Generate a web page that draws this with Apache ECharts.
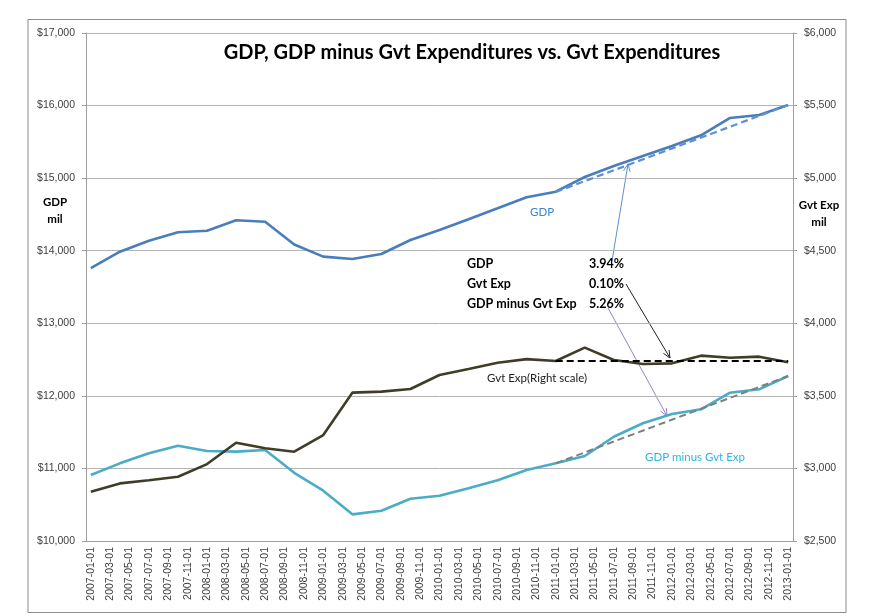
<!DOCTYPE html>
<html>
<head>
<meta charset="utf-8">
<script src="https://cdn.jsdelivr.net/npm/echarts@6/dist/echarts.min.js"></script>
<style>html,body{margin:0;padding:0;background:#fff;}#c{width:869px;height:616px;}</style>
</head>
<body>
<div id="c"></div>
<script>
// Quarterly observation dates
const quarters = [
  '2007-01-01','2007-04-01','2007-07-01','2007-10-01',
  '2008-01-01','2008-04-01','2008-07-01','2008-10-01',
  '2009-01-01','2009-04-01','2009-07-01','2009-10-01',
  '2010-01-01','2010-04-01','2010-07-01','2010-10-01',
  '2011-01-01','2011-04-01','2011-07-01','2011-10-01',
  '2012-01-01','2012-04-01','2012-07-01','2012-10-01',
  '2013-01-01'
];
// GDP ($ mil, left axis)
const gdp = [13760, 13986, 14138, 14254, 14276, 14419, 14400, 14085, 13918, 13886, 13955, 14147,
             14285, 14433, 14584, 14736, 14813, 15016, 15167, 15305, 15443, 15590, 15829, 15870, 16008];
// Government expenditures ($ mil, right axis)
const gvtExp = [2840, 2897, 2918, 2943, 3030, 3177, 3139, 3115, 3230, 3522, 3529, 3547,
                3644, 3685, 3728, 3753, 3740, 3832, 3747, 3719, 3724, 3777, 3763, 3770, 3731];
// GDP minus government expenditures ($ mil, left axis)
const gdpMinus = [10909, 11070, 11208, 11313, 11240, 11231, 11254, 10940, 10693, 10367, 10417, 10583,
                  10624, 10726, 10836, 10978, 11070, 11171, 11437, 11622, 11750, 11815, 12043, 12090, 12273];
// Trend lines (start 2011-01-01, end 2013-01-01)
const trendDates = ['2011-01-01', '2013-01-01'];
const gdpTrend = [14809, 16008];
const gvtTrend = [3740, 3740];
const gdpMinusTrend = [11070, 12273];
// Annotation table
const annoNames = ['GDP', 'Gvt Exp', 'GDP minus Gvt Exp'];
const annoRates = ['3.94%', '0.10%', '5.26%'];

// Monthly category axis 2007-01-01 .. 2013-01-01
const months = [];
for (let y = 2007; y <= 2013; y++) {
  for (let m = 1; m <= 12; m++) {
    if (y === 2013 && m > 1) break;
    months.push(y + '-' + (m < 10 ? '0' + m : m) + '-01');
  }
}
function toMonthly(dates, vals) {
  return months.map(d => { const i = dates.indexOf(d); return i >= 0 ? vals[i] : null; });
}

const chart = echarts.init(document.getElementById('c'), null, {renderer: 'canvas'});
const fmt = v => '$' + v.toLocaleString('en-US');
const axisFont = {fontFamily: 'Liberation Sans', fontSize: 10.5, color: '#404040'};

function arrow(x1, y1, x2, y2, color) {
  const a = Math.atan2(y2 - y1, x2 - x1), L = 8, s = 0.42;
  return {
    type: 'group', silent: true, children: [
      {type: 'line', shape: {x1, y1, x2, y2}, style: {stroke: color, lineWidth: 1}},
      {type: 'polyline', shape: {points: [
        [x2 - L * Math.cos(a - s), y2 - L * Math.sin(a - s)], [x2, y2],
        [x2 - L * Math.cos(a + s), y2 - L * Math.sin(a + s)]]},
        style: {stroke: color, lineWidth: 1, fill: null}}
    ]
  };
}

const annoFont = {fontFamily: 'Lato', fontWeight: 'bold', fontSize: 12.5, fill: '#000'};
const graphics = [
  {type: 'rect', shape: {x: 28, y: 19.5, width: 818, height: 593}, style: {fill: null, stroke: '#8c8c8c', lineWidth: 1}, silent: true},
  {type: 'text', x: 472, y: 43, style: {text: 'GDP, GDP minus Gvt Expenditures vs. Gvt Expenditures', align: 'center', fontFamily: 'Lato', fontWeight: 'bold', fontSize: 20, fill: '#000'}, silent: true},
  {type: 'text', x: 55, y: 194, style: {text: 'GDP\nmil', align: 'center', fontFamily: 'Lato', fontWeight: 'bold', fontSize: 11.5, lineHeight: 17, fill: '#000'}},
  {type: 'text', x: 819, y: 197, style: {text: 'Gvt Exp\nmil', align: 'center', fontFamily: 'Lato', fontWeight: 'bold', fontSize: 11.5, lineHeight: 17, fill: '#000'}},
  {type: 'text', x: 530, y: 206, style: {text: 'GDP', fontFamily: 'Lato', fontSize: 11.5, fill: '#3b86cf'}},
  {type: 'text', x: 487, y: 372, style: {text: 'Gvt Exp(Right scale)', fontFamily: 'Lato', fontSize: 11.5, fill: '#222'}},
  {type: 'text', x: 645, y: 451, style: {text: 'GDP minus Gvt Exp', fontFamily: 'Lato', fontSize: 11.5, fill: '#2eb4e6'}},
  arrow(612, 261, 628, 164, '#5b8fd0'),
  arrow(626, 284, 670, 358, '#222'),
  arrow(608, 308, 667, 416, '#9a82cf')
];
annoNames.forEach((n, i) => {
  graphics.push({type: 'text', x: 467, y: 257 + i * 20, style: Object.assign({text: n}, annoFont)});
  graphics.push({type: 'text', x: 624, y: 257 + i * 20, style: Object.assign({text: annoRates[i], align: 'right'}, annoFont)});
});

chart.setOption({
  animation: false,
  backgroundColor: '#fff',
  grid: {left: 86, right: 76, top: 33, bottom: 75, containLabel: false},
  xAxis: {
    type: 'category', data: months, boundaryGap: true,
    axisLine: {lineStyle: {color: '#a0a0a0'}},
    axisTick: {interval: 1, length: 5, lineStyle: {color: '#a0a0a0'}},
    axisLabel: Object.assign({interval: 1, rotate: 90, margin: 6}, axisFont),
    splitLine: {show: false}
  },
  yAxis: [
    {type: 'value', min: 10000, max: 17000, interval: 1000, position: 'left',
     axisLine: {show: true, lineStyle: {color: '#a0a0a0'}},
     axisTick: {show: true, length: 4, lineStyle: {color: '#a0a0a0'}},
     axisLabel: Object.assign({formatter: fmt, margin: 11}, axisFont),
     splitLine: {lineStyle: {color: '#b4b4b4'}}},
    {type: 'value', min: 2500, max: 6000, interval: 500, position: 'right',
     axisLine: {show: true, lineStyle: {color: '#a0a0a0'}},
     axisTick: {show: true, length: 4, lineStyle: {color: '#a0a0a0'}},
     axisLabel: Object.assign({formatter: fmt, margin: 11}, axisFont),
     splitLine: {show: false}}
  ],
  series: [
    {name: 'GDP', type: 'line', yAxisIndex: 0, data: toMonthly(quarters, gdp), connectNulls: true,
     showSymbol: false, lineStyle: {color: '#4a7ebb', width: 2.6}, z: 3},
    {name: 'GDP minus Gvt Exp', type: 'line', yAxisIndex: 0, data: toMonthly(quarters, gdpMinus), connectNulls: true,
     showSymbol: false, lineStyle: {color: '#4bacc6', width: 2.6}, z: 3},
    {name: 'Gvt Exp', type: 'line', yAxisIndex: 1, data: toMonthly(quarters, gvtExp), connectNulls: true,
     showSymbol: false, lineStyle: {color: '#3f3d27', width: 2.6}, z: 3},
    {name: 'GDP trend', type: 'line', yAxisIndex: 0, data: toMonthly(trendDates, gdpTrend), connectNulls: true,
     showSymbol: false, lineStyle: {color: '#5b8fd6', width: 2.2, type: [7, 4]}, z: 4},
    {name: 'GDP minus trend', type: 'line', yAxisIndex: 0, data: toMonthly(trendDates, gdpMinusTrend), connectNulls: true,
     showSymbol: false, lineStyle: {color: '#7f7f7f', width: 2, type: [7, 4]}, z: 4},
    {name: 'Gvt trend', type: 'line', yAxisIndex: 1, data: toMonthly(trendDates, gvtTrend), connectNulls: true,
     showSymbol: false, lineStyle: {color: '#000', width: 2, type: [7, 4]}, z: 4}
  ],
  graphic: graphics
});
</script>
</body>
</html>
